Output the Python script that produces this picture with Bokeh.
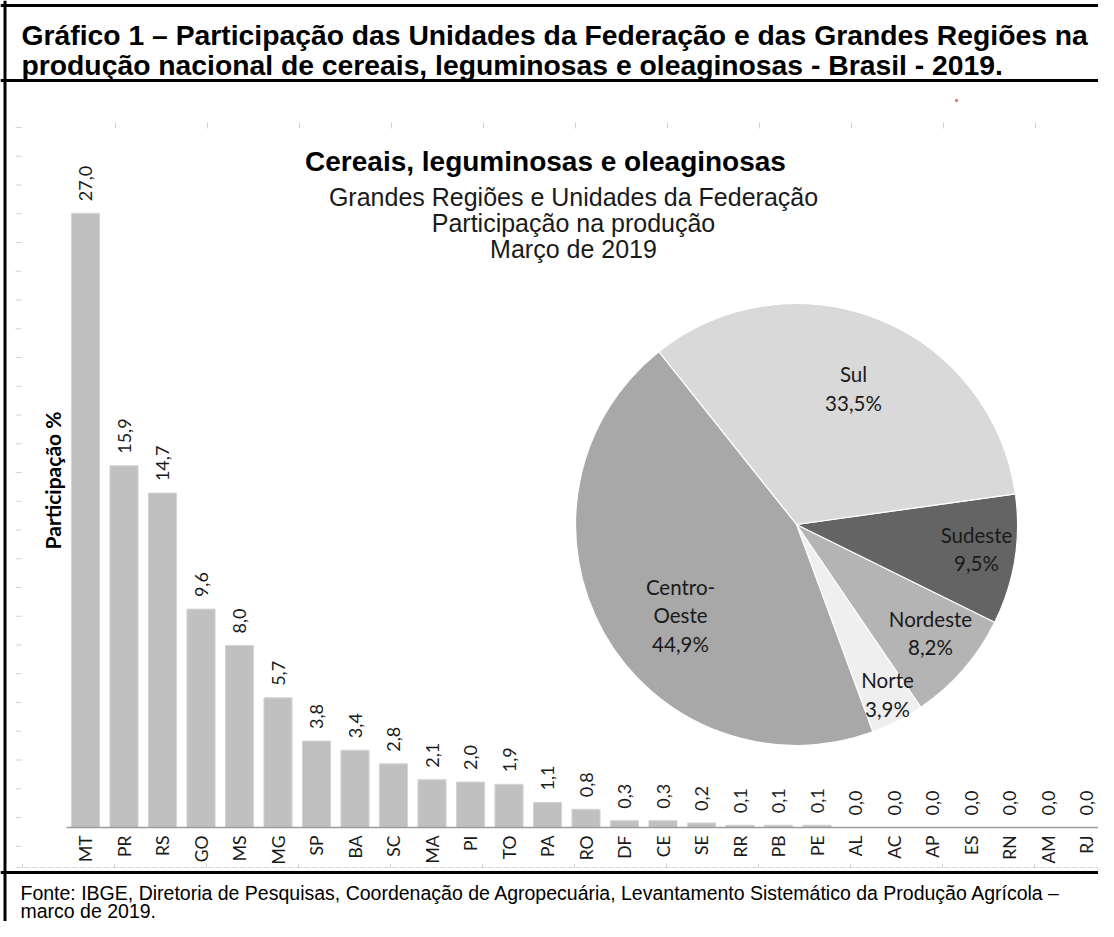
import math
from bokeh.plotting import figure
from bokeh.models import Range1d, ColumnDataSource
from bokeh.core.properties import value
from bokeh.embed import file_html
from bokeh.resources import INLINE

# ---------------- data ----------------
states = ["MT", "PR", "RS", "GO", "MS", "MG", "SP", "BA", "SC", "MA", "PI", "TO", "PA", "RO",
          "DF", "CE", "SE", "RR", "PB", "PE", "AL", "AC", "AP", "ES", "RN", "AM", "RJ"]
state_share = [27.0, 15.9, 14.7, 9.6, 8.0, 5.7, 3.8, 3.4, 2.8, 2.1, 2.0, 1.9, 1.1, 0.8,
               0.3, 0.3, 0.2, 0.1, 0.1, 0.1, 0.0, 0.0, 0.0, 0.0, 0.0, 0.0, 0.0]
regions = ["Norte", "Nordeste", "Sudeste", "Sul", "Centro-Oeste"]
region_names = ["Norte", "Nordeste", "Sudeste", "Sul", "Centro-\nOeste"]
region_share = [3.9, 8.2, 9.5, 33.5, 44.9]

header_lines = ["Gráfico 1 – Participação das Unidades da Federação e das Grandes Regiões na",
                "produção nacional de cereais, leguminosas e oleaginosas - Brasil - 2019."]
chart_title = "Cereais, leguminosas e oleaginosas"
chart_subtitles = ["Grandes Regiões e Unidades da Federação", "Participação na produção", "Março de 2019"]
y_label = "Participação %"
footer_lines = ["Fonte: IBGE, Diretoria de Pesquisas, Coordenação de Agropecuária, Levantamento Sistemático da Produção Agrícola –",
                "marco de 2019."]

# ---------------- layout ----------------
W, H = 1098, 921
STEP = 38.5          # px per category
X0 = 85              # px of first category centre
UNIT = 22.75         # px per percentage point
BASE = H - 827       # px of baseline from canvas bottom

p = figure(width=W, height=H, output_backend="svg", toolbar_location=None,
           x_range=Range1d(-X0 / STEP, (W - X0) / STEP),
           y_range=Range1d(-BASE / UNIT, (H - BASE) / UNIT),
           x_axis_location=None, y_axis_location=None, min_border=0)
p.min_border_left = p.min_border_right = p.min_border_top = p.min_border_bottom = 0
p.outline_line_color = None
p.background_fill_color = "white"
p.border_fill_color = "white"
for g in p.grid:
    g.visible = False

# pixel helper ranges (y downward)
p.extra_x_ranges = {"px": Range1d(0, W)}
p.extra_y_ranges = {"py": Range1d(H, 0)}
PX = dict(x_range_name="px", y_range_name="py")

# ---------------- frame lines ----------------
p.segment(x0=[0, 4.5, 0, 0], x1=[W, 4.5, W, W], y0=[5, 0, 80, 872], y1=[5, H, 80, 872],
          line_color="black", line_width=3, **PX)

# faint scan artefacts (ticks around the inner chart image)
ly = [127 + 28.75 * k for k in range(26)]
p.segment(x0=[15] * len(ly), x1=[21] * len(ly), y0=ly, y1=ly, line_color="#d2d2d2", line_width=1, **PX)
tx = [23 + 92 * k for k in range(1, 12)]
p.segment(x0=tx, x1=tx, y0=[122] * len(tx), y1=[128] * len(tx), line_color="#d2d2d2", line_width=1, **PX)
p.segment(x0=[15], x1=[W], y0=[867], y1=[867], line_color="#d6d6d6", line_width=1, line_dash="6 2", **PX)
bx = [22 + 92 * k for k in range(12)]
p.segment(x0=bx, x1=bx, y0=[863] * len(bx), y1=[867] * len(bx), line_color="#d2d2d2", line_width=1, **PX)
p.scatter(x=[956], y=[100], size=2.5, marker="square", fill_color="#e05050", line_color=None, **PX)

# ---------------- header / footer ----------------
p.text(x=[21, 21], y=[34, 64], text=header_lines, text_font=value("Liberation Sans"),
       text_font_style="bold", text_font_size="28.3px", text_color="black",
       text_baseline="alphabetic", text_align="left", **PX)
p.text(x=[20, 20], y=[892, 910], text=footer_lines, text_font=value("Liberation Sans"),
       text_font_size="19.5px", text_color="black", text_baseline="alphabetic", text_align="left", **PX)

# ---------------- chart titles ----------------
p.text(x=[545], y=[161], text=[chart_title], text_font=value("Liberation Sans"), text_font_style="bold",
       text_font_size="28px", text_color="black", text_align="center", text_baseline="alphabetic", **PX)
p.text(x=[573, 573, 573], y=[196, 222, 248], text=chart_subtitles, text_font=value("Liberation Sans"),
       text_font_size="25px", text_color="#1a1a1a", text_align="center", text_baseline="alphabetic", **PX)

# ---------------- bars ----------------
idx = list(range(len(states)))
src = ColumnDataSource(dict(x=idx, top=state_share, lbl=[f"{v:.1f}".replace(".", ",") for v in state_share],
                            cat=states))
p.vbar(x="x", top="top", bottom=0, width=0.73, source=src, fill_color="#c0c0c0", line_color="#d4d4d4",
       line_width=1)
p.segment(x0=[66], x1=[1103], y0=[0], y1=[0], x_range_name="px", line_color="#9c9c9c", line_width=1.5)

p.text(x="x", y="top", text="lbl", source=src, angle=math.pi / 2, y_offset=-12,
       text_align="left", text_baseline="middle", text_font=value("Lato"), text_font_size="18px",
       text_color="#1a1a1a")
p.text(x="x", y=0, text="cat", source=src, angle=math.pi / 2, y_offset=8,
       text_align="right", text_baseline="middle", text_font=value("Lato"), text_font_size="17.5px",
       text_color="#1a1a1a")

p.text(x=[52], y=[480], text=[y_label], angle=math.pi / 2, text_align="center", text_baseline="middle",
       text_font=value("Lato"), text_font_style="bold", text_font_size="21px", text_color="black", **PX)

# ---------------- pie ----------------
start = math.radians(-69.8)
ends, starts = [], []
acc = start
for s in region_share:
    starts.append(acc)
    acc += s / 100.0 * 2 * math.pi
    ends.append(acc)
pie_colors = ["#efefef", "#b4b4b4", "#646464", "#d9d9d9", "#a8a8a8"]
psrc = ColumnDataSource(dict(x=[796] * 5, y=[524] * 5, s=starts, e=ends, c=pie_colors))
p.wedge(x="x", y="y", radius=221, start_angle="s", end_angle="e", fill_color="c", line_color="white",
        line_width=1.2, source=psrc, **PX)

label_pos_x = [887, 930, 976, 853, 680]
label_pos_y = [694, 632.5, 548.5, 388, 615]
pie_txt = [f"{n}\n{v:.1f}%".replace(".", ",") for n, v in zip(region_names, region_share)]
p.text(x=label_pos_x, y=label_pos_y, text=pie_txt, text_align="center", text_baseline="middle",
       text_font=value("Lato"), text_font_size="20.5px", text_color="#1a1a1a", text_line_height=1.17, **PX)

open("out.html", "w").write(file_html(p, INLINE))
